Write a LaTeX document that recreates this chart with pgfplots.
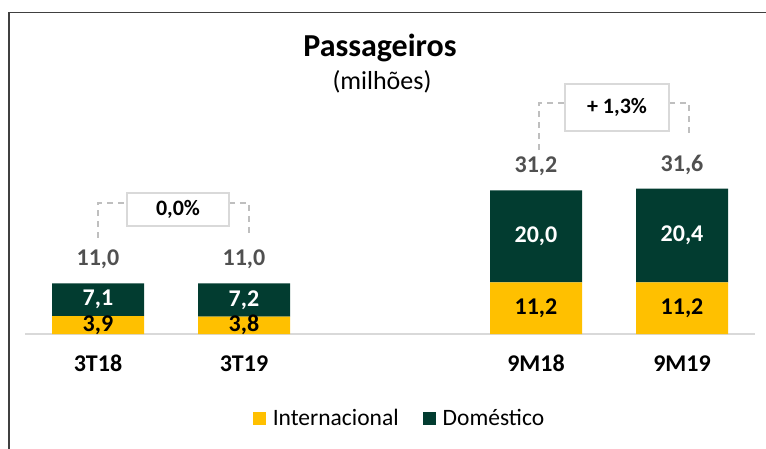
\documentclass[border=0pt]{standalone}
\usepackage{pgfplots}
\pgfplotsset{compat=1.18}
\usepackage{fontspec}
\setmainfont{Carlito}
\definecolor{amarelo}{HTML}{FFC000}
\definecolor{verde}{HTML}{023C30}
\definecolor{cinzatxt}{HTML}{505050}
\definecolor{cinzaeixo}{HTML}{D9D9D9}
\definecolor{cinzatrac}{HTML}{BFBFBF}
\definecolor{moldura}{HTML}{404040}
\newcommand\lab{\fontsize{24}{28}\selectfont\bfseries}
\pgfplotsset{
  base/.style={scale only axis, width=730pt, height=276pt,
    xmin=-0.5, xmax=4.5, ymin=0, ymax=60,
    at={(25pt,114pt)}, anchor=south west, clip=false},
}
\begin{document}
\begin{tikzpicture}[x=1pt,y=1pt]
\useasboundingbox (0,0) rectangle (766,448);
\draw[line width=1.6pt, moldura] (9,-2) -- (9,435.3) -- (768,435.3);
\node[anchor=base, font=\fontsize{32}{38}\selectfont\bfseries] at (380,391) {Passageiros};
\node[anchor=base, font=\fontsize{26}{30}\selectfont] at (382,358) {(milhões)};

\begin{axis}[base, ybar stacked, bar width=92pt,
  axis y line=none, axis x line=bottom,
  axis line style={-, draw=cinzaeixo, line width=1.5pt},
  xtick={0,1,3,4}, xticklabels={3T18,3T19,9M18,9M19},
  major tick length=0pt,
  xticklabel style={font=\lab, anchor=base, yshift=-37.5pt},
  legend columns=2,
  legend style={at={(0.513,-0.305)}, anchor=center, draw=none, fill=none,
    font=\fontsize{23.5}{27}\selectfont,
    /tikz/every odd column/.append style={column sep=5pt},
    /tikz/every even column/.append style={column sep=22pt}},
  legend image code/.code={\fill[#1] (0pt,-6.5pt) rectangle (13pt,6.5pt);},
]
\addplot[fill=amarelo, draw=none] coordinates {(0,3.9) (1,3.8) (3,11.2) (4,11.2)};
\addlegendentry{Internacional}
\addplot[fill=verde, draw=none] coordinates {(0,7.1) (1,7.2) (3,20.0) (4,20.4)};
\addlegendentry{Doméstico}
\end{axis}

\begin{axis}[base, hide axis]
% labels inside yellow segments
\addplot[draw=none, mark=none, nodes near coords, point meta=explicit symbolic,
  nodes near coords style={anchor=center, font=\lab, text=black}]
  table[meta=lab] {
x y lab
0 1.95 3,9
1 1.9 3,8
3 5.6 11,2
4 5.6 11,2
};
% labels inside green segments
\addplot[draw=none, mark=none, nodes near coords, point meta=explicit symbolic,
  nodes near coords style={anchor=center, font=\lab, text=white}]
  table[meta=lab] {
x y lab
0 7.45 7,1
1 7.4 7,2
3 21.2 20,0
4 21.4 20,4
};
% totals
\addplot[draw=none, mark=none, nodes near coords, point meta=explicit symbolic,
  nodes near coords style={anchor=base, yshift=17.5pt, font=\lab, text=cinzatxt}]
  table[meta=lab] {
x y lab
0 11.0 11,0
1 11.0 11,0
3 31.2 31,2
4 31.6 31,6
};
% brackets
\draw[cinzatrac, line width=1.5pt, dash pattern=on 6pt off 5pt]
  (axis cs:0,20.9) -- (axis cs:0,28.5) -- (axis cs:0.2,28.5);
\draw[cinzatrac, line width=1.5pt, dash pattern=on 6pt off 5pt]
  (axis cs:0.897,28.5) -- (axis cs:1.034,28.5) -- (axis cs:1.034,20.9);
\node[draw=cinzaeixo, line width=1.5pt, fill=white, minimum width=102pt,
  minimum height=33pt, inner sep=0pt, font=\fontsize{22}{26}\selectfont\bfseries]
  at (axis cs:0.548,27.07) {0,0\%};
\draw[cinzatrac, line width=1.5pt, dash pattern=on 6pt off 5pt]
  (axis cs:3.02,40.0) -- (axis cs:3.02,50.2) -- (axis cs:3.199,50.2);
\draw[cinzatrac, line width=1.5pt, dash pattern=on 6pt off 5pt]
  (axis cs:3.911,50.2) -- (axis cs:4.048,50.2) -- (axis cs:4.048,43.0);
\node[draw=cinzaeixo, line width=1.5pt, fill=white, minimum width=104pt,
  minimum height=47pt, inner sep=0pt, font=\fontsize{22}{26}\selectfont\bfseries]
  at (axis cs:3.555,49.2) {+ 1,3\%};
\end{axis}
\end{tikzpicture}
\end{document}
